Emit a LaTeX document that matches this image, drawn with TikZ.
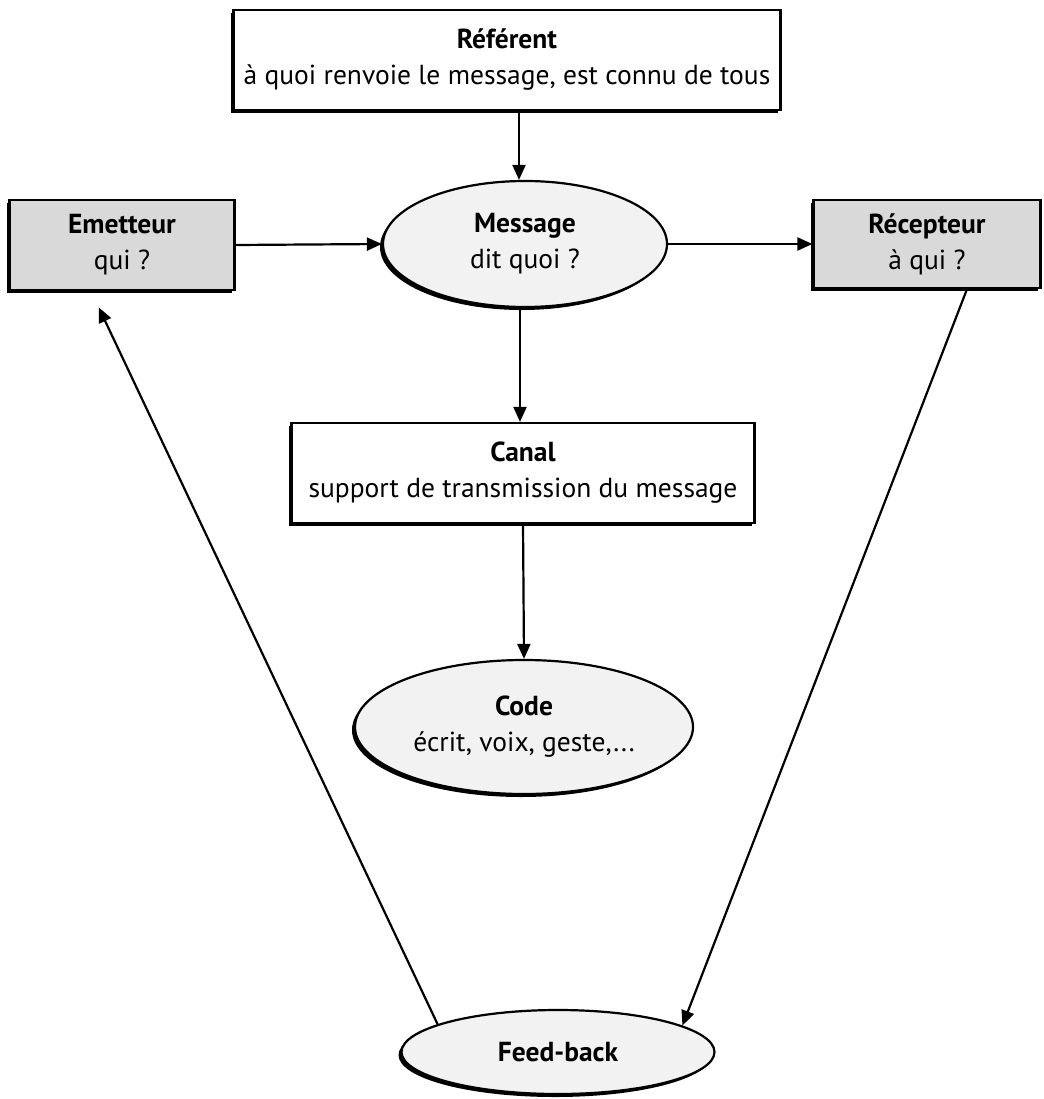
\documentclass[tikz,border=0pt]{standalone}
\usepackage{fontspec}
\setmainfont{PT Sans}
\usetikzlibrary{shapes.geometric,shadows,arrows.meta}
\definecolor{boxgray}{HTML}{D9D9D9}
\definecolor{ellgray}{HTML}{F2F2F2}
\begin{document}
\begin{tikzpicture}[x=1pt,y=-1pt,
  shad/.style={drop shadow={shadow xshift=-3pt,shadow yshift=-3pt,fill=black,opacity=1}},
  base/.style={draw, line width=2.2pt, inner sep=0pt, align=center,
    font=\fontsize{27.5}{36}\selectfont, shad},
  rbox/.style={base, rectangle},
  ell/.style={base, ellipse, fill=ellgray},
  arr/.style={line width=2.2pt, -{Triangle[length=15pt,width=13pt]}}
]
\useasboundingbox (0,0) rectangle (1043,1099);

\node[rbox, fill=white, minimum width=547pt, minimum height=100pt] (ref) at (507,60)
  {\textbf{Référent}\\à quoi renvoie le message, est connu de tous};
\node[rbox, fill=boxgray, minimum width=225pt, minimum height=90pt] (emet) at (122,245)
  {\textbf{Emetteur}\\qui ?};
\node[rbox, fill=boxgray, minimum width=227pt, minimum height=88pt] (rec) at (927,244)
  {\textbf{Récepteur}\\à qui ?};
\node[ell, minimum width=284pt, minimum height=126pt] (msg) at (525,244)
  {\textbf{Message}\\dit quoi ?};
\node[rbox, fill=white, minimum width=463pt, minimum height=100pt] (canal) at (523,473)
  {\textbf{Canal}\\support de transmission du message};
\node[ell, minimum width=338pt, minimum height=134pt] (code) at (524,727)
  {\textbf{Code}\\écrit, voix, geste,...};
\node[ell, minimum width=313pt, minimum height=84pt] (fb) at (558,1052)
  {\textbf{Feed-back}};

\draw[arr] ([xshift=12pt]ref.south) -- ([xshift=-6pt]msg.north);
\draw[arr] (emet.east) -- (msg.west);
\draw[arr] (msg.east) -- (rec.west);
\draw[arr] ([xshift=-5pt]msg.south) -- ([xshift=-3pt]canal.north);
\draw[arr] (canal.south) -- (code.north);
\draw[arr] ([xshift=40pt]rec.south) -- (fb.12);
\draw[arr, shorten >=18pt] (fb.167) -- ([xshift=-31pt]emet.south);
\end{tikzpicture}
\end{document}
